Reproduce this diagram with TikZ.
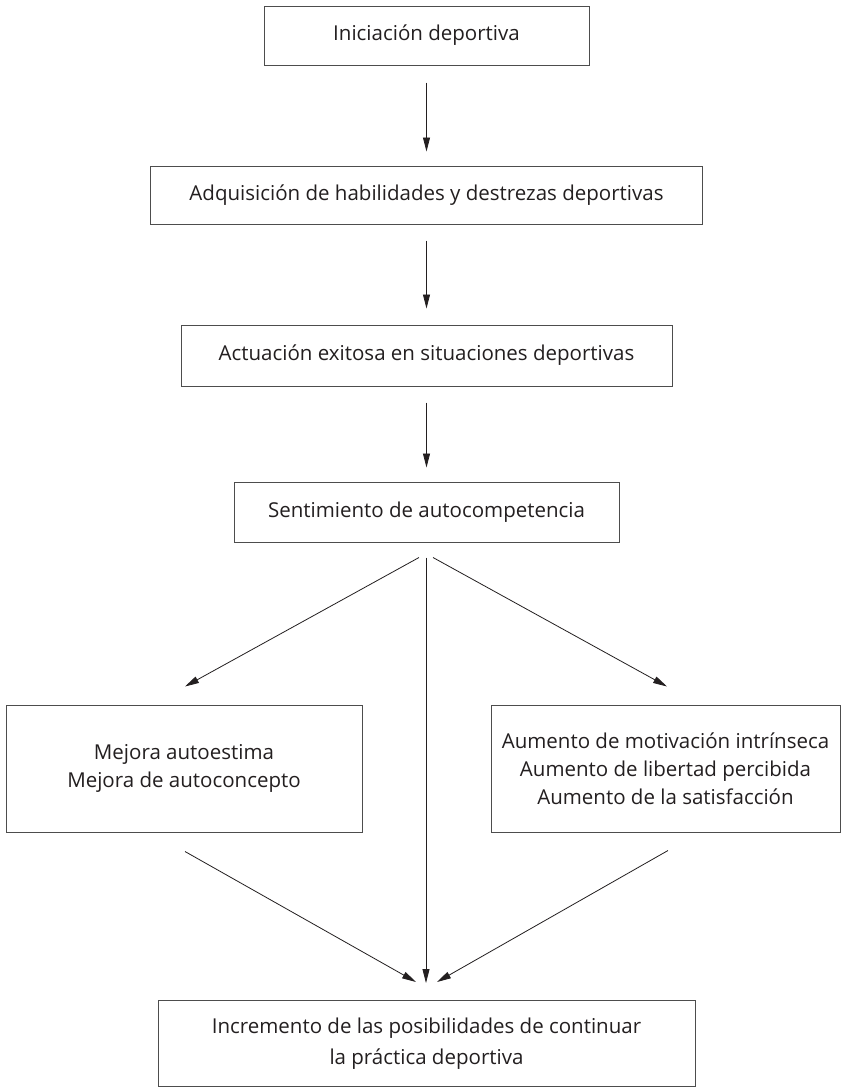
\documentclass[tikz,border=0pt]{standalone}
\usepackage{fontspec}
\setmainfont{Open Sans}
\usetikzlibrary{arrows.meta}
\definecolor{ink}{HTML}{231F20}
\definecolor{edge}{HTML}{4D4D4D}
\begin{document}
\begin{tikzpicture}[x=1pt,y=-1pt,
  box/.style={draw=edge, line width=1pt, inner sep=0pt, align=center,
    text=ink, font=\fontsize{20.5}{28}\selectfont},
  arr/.style={draw=ink, line width=0.8pt, -{Triangle[length=14pt,width=7pt]}}]
\useasboundingbox (0,0) rectangle (842,1088);
\fill[white] (0,0) rectangle (842,1088);

% boxes of the chain
\node[box, minimum width=325pt, minimum height=59pt] (b1) at (426.5,35.5) {Iniciación deportiva};
\node[box, minimum width=552pt, minimum height=58pt] (b2) at (426.5,195) {Adquisición de habilidades y destrezas deportivas};
\node[box, minimum width=491pt, minimum height=61pt] (b3) at (426.5,355.5) {Actuación exitosa en situaciones deportivas};
\node[box, minimum width=385pt, minimum height=60pt] (b4) at (426.5,512) {Sentimiento de autocompetencia};
\node[box, minimum width=356pt, minimum height=127pt] (b5) at (184,768.5) {Mejora autoestima\\Mejora de autoconcepto};
\node[box, minimum width=349pt, minimum height=127pt] (b6) at (665.5,768.5) {Aumento de motivación intrínseca\\Aumento de libertad percibida\\Aumento de la satisfacción};
\node[box, minimum width=537pt, minimum height=86pt, font=\fontsize{20.5}{31}\selectfont] (b7) at (426.5,1043.5) {Incremento de las posibilidades de continuar\\la práctica deportiva};

% straight arrows down the chain
\draw[arr] ([yshift=-17pt]b1.south) -- ([yshift=14pt]b2.north);
\draw[arr] ([yshift=-16pt]b2.south) -- ([yshift=16pt]b3.north);
\draw[arr] ([yshift=-16pt]b3.south) -- ([yshift=14pt]b4.north);

% fan out of the self-competence box
\draw[arr] ([xshift=-7.5pt,yshift=-15pt]b4.south) -- ([xshift=1pt,yshift=18pt]b5.north);
\draw[arr] ([xshift=6.5pt,yshift=-15pt]b4.south) -- ([xshift=1.5pt,yshift=18pt]b6.north);
\draw[arr] ([xshift=-0.5pt,yshift=-15pt]b4.south) -- ([xshift=-0.5pt,yshift=17pt]b7.north);

% converging arrows into the last box
\draw[arr] ([xshift=1pt,yshift=-19pt]b5.south) -- ([xshift=-10.5pt,yshift=18pt]b7.north);
\draw[arr] ([xshift=2.5pt,yshift=-18pt]b6.south) -- ([xshift=10.5pt,yshift=18pt]b7.north);
\end{tikzpicture}
\end{document}
